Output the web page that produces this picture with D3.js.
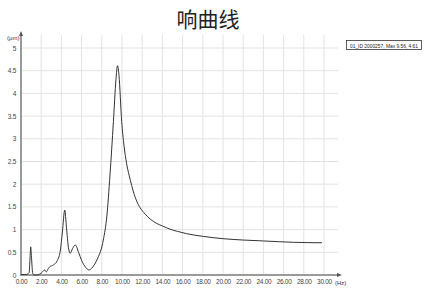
<!DOCTYPE html>
<head>
<meta charset="utf-8">
<script src="https://d3js.org/d3.v7.min.js"></script>
<style>
  body { margin: 0; background: #fff; }
  text { font-family: "Liberation Sans", Arial, sans-serif; }
</style>
</head>
<body>
<svg id="chart" width="426" height="288"></svg>
<script>
// response curve
var freq = [0, 0.5, 0.8, 0.9, 0.96, 1.05, 1.15, 1.3, 1.6, 2.0, 2.35, 2.5, 2.7, 2.84, 3.2, 3.6, 3.9, 4.1, 4.33, 4.5, 4.7, 4.88, 5.1, 5.38, 5.7, 6.0, 6.4, 6.73, 7.0, 7.3, 7.6, 8.15, 8.5, 8.81, 9.15, 9.4, 9.56, 9.7, 9.97, 10.2, 10.46, 10.7, 10.96, 11.2, 11.45, 11.8, 12.3, 12.8, 13.4, 14.0, 14.75, 15.5, 16.4, 18.05, 20, 22, 24, 27, 29.8];
var amp  = [0.01, 0.01, 0.05, 0.4, 0.62, 0.35, 0.05, 0.0, 0.0, 0.04, 0.11, 0.07, 0.14, 0.18, 0.22, 0.32, 0.55, 0.95, 1.43, 1.05, 0.6, 0.48, 0.58, 0.66, 0.5, 0.32, 0.17, 0.11, 0.15, 0.24, 0.37, 0.77, 1.3, 2.2, 3.38, 4.3, 4.61, 4.4, 3.38, 2.85, 2.45, 2.2, 1.97, 1.78, 1.63, 1.48, 1.34, 1.23, 1.14, 1.08, 1.01, 0.96, 0.91, 0.85, 0.8, 0.77, 0.75, 0.72, 0.71];
var xTicks = [0, 2, 4, 6, 8, 10, 12, 14, 16, 18, 20, 22, 24, 26, 28, 30];
var yTicks = [0, 0.5, 1, 1.5, 2, 2.5, 3, 3.5, 4, 4.5, 5];
var title = "响曲线";
var legendText = "01_ID 2000257, Max 9.56, 4.61";

var svg = d3.select("#chart");
var x = d3.scaleLinear().domain([0, 30]).range([21, 324]);
var y = d3.scaleLinear().domain([0, 5]).range([275, 48]);
var gridTop = 35, gridRight = 338;

svg.append("text").attr("x", 208).attr("y", 27).attr("text-anchor", "middle")
  .style("font-family", "'Noto Sans CJK SC', sans-serif").style("font-size", "21px")
  .attr("fill", "#222").text(title);

// grid
svg.append("g").selectAll("line").data(xTicks.slice(1)).enter().append("line")
  .attr("x1", d => x(d)).attr("x2", d => x(d)).attr("y1", gridTop).attr("y2", 275)
  .attr("stroke", "#e3e3e3").attr("stroke-width", 1);
svg.append("g").selectAll("line").data(yTicks.slice(1)).enter().append("line")
  .attr("x1", 21).attr("x2", gridRight).attr("y1", d => y(d)).attr("y2", d => y(d))
  .attr("stroke", "#e3e3e3").attr("stroke-width", 1);

// axes
var ax = svg.append("g").attr("transform", "translate(0,275)")
  .call(d3.axisBottom(x).tickValues(xTicks).tickFormat(d3.format(".2f")).tickSize(0).tickPadding(4));
ax.select(".domain").remove();
ax.selectAll("text").style("font-size", "6.5px").style("letter-spacing", "-0.3px").attr("fill", "#444");
var ay = svg.append("g").attr("transform", "translate(21,0)")
  .call(d3.axisLeft(y).tickValues(yTicks).tickFormat(d3.format("~g")).tickSize(0).tickPadding(5));
ay.select(".domain").remove();
ay.selectAll("text").style("font-size", "6.5px").style("letter-spacing", "-0.3px").attr("fill", "#444");

svg.append("line").attr("x1", 21).attr("x2", 21).attr("y1", 276).attr("y2", 33)
  .attr("stroke", "#9a9a9a").attr("stroke-width", 2);
svg.append("line").attr("x1", 20).attr("x2", 339).attr("y1", 275).attr("y2", 275)
  .attr("stroke", "#9a9a9a").attr("stroke-width", 2);
svg.append("path").attr("d", "M21,31 L19,36 L23,36 Z").attr("fill", "#555");
svg.append("path").attr("d", "M342,275 L337,273 L337,277 Z").attr("fill", "#555");

svg.append("text").attr("x", 7).attr("y", 40).style("font-size", "6px").attr("fill", "#333").text("(μm)");
svg.append("text").attr("x", 335).attr("y", 285).style("font-size", "6px").attr("fill", "#333").text("(Hz)");

// curve
var line = d3.line().x((d, i) => x(freq[i])).y(d => y(d)).curve(d3.curveMonotoneX);
svg.append("path").datum(amp).attr("d", line)
  .attr("fill", "none").attr("stroke", "#333").attr("stroke-width", 1);

// legend
svg.append("rect").attr("x", 346.5).attr("y", 40.5).attr("width", 75).attr("height", 9)
  .attr("fill", "#fff").attr("stroke", "#333").attr("stroke-width", 0.8);
svg.append("text").attr("x", 350).attr("y", 47.5)
  .attr("textLength", 68).attr("lengthAdjust", "spacingAndGlyphs")
  .style("font-size", "5.5px").attr("fill", "#222").text(legendText);
</script>
</body>
</html>
